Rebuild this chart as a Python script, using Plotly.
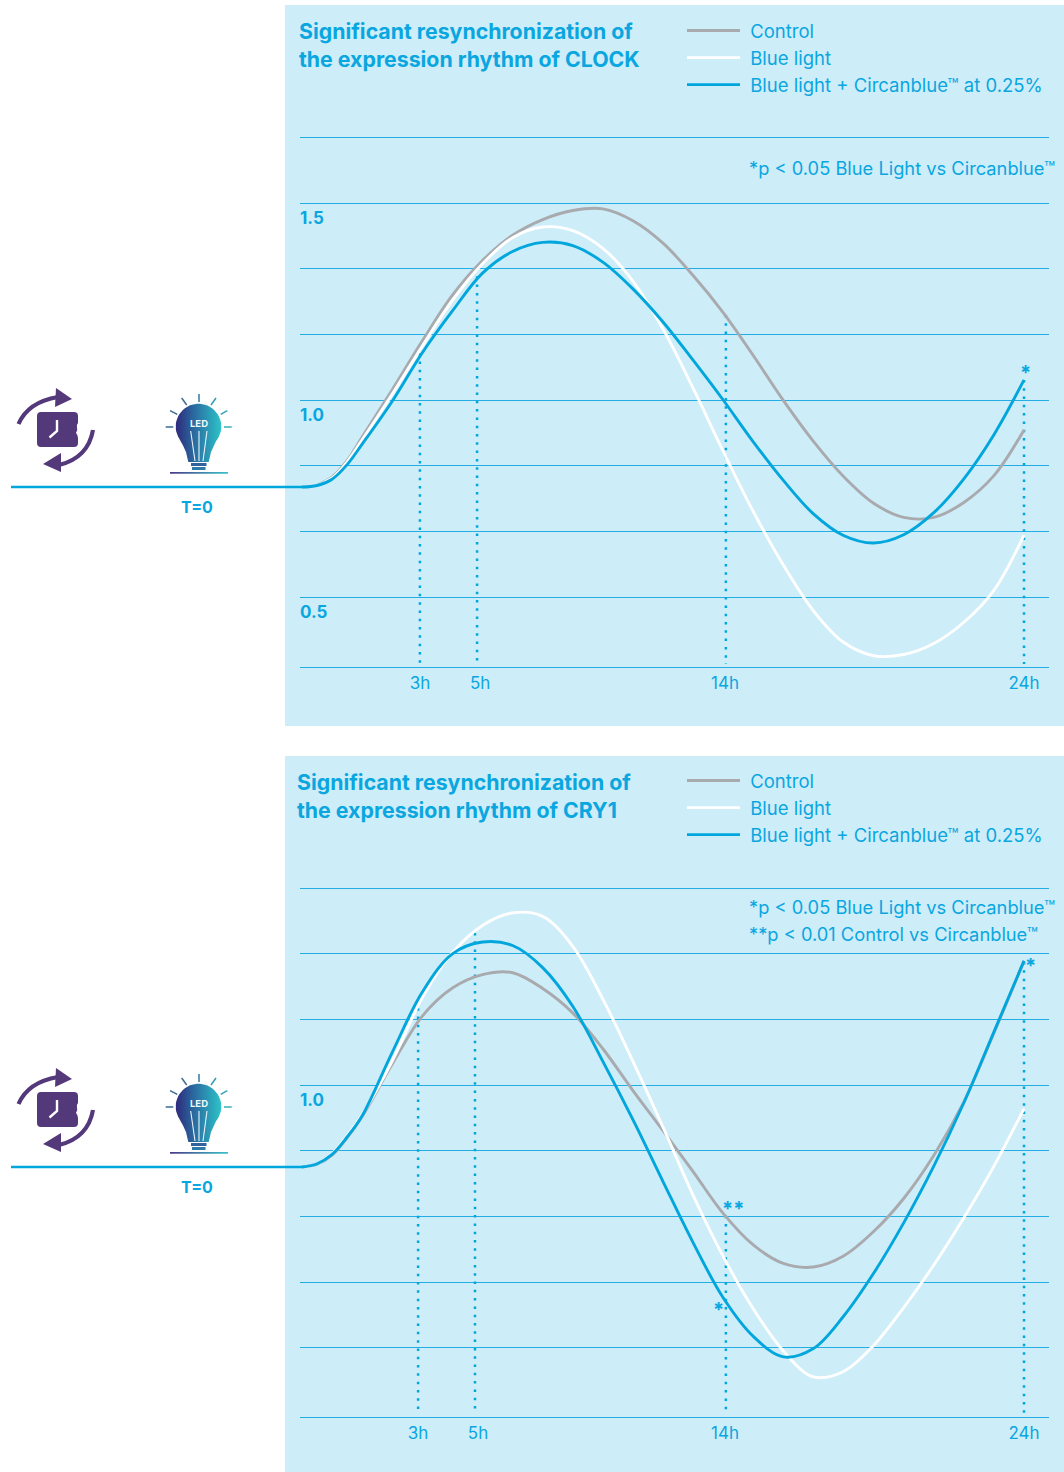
import numpy as np
import plotly.graph_objects as go

# ---------- data (x = position along the drawn time axis, y = relative expression) ----------
SERIES_NAMES = ["\u00a0Control", "\u00a0Blue light", "\u00a0Blue light + Circanblue™ at 0.25%"]

AXIS_POS = [0, .5, 1, 1.5] + list(range(2, 25))
CLOCK_CONTROL = [.779, .784, .804, .846, .906, 1.026, 1.150, 1.266, 1.354, 1.418, 1.458, 1.481, 1.485, 1.455, 1.398, 1.316, 1.222, 1.113, .999, .895, .806, .738, .702, .702, .74, .808, .924]
CLOCK_BLUE = [.779, .784, .802, .843, .899, 1.015, 1.137, 1.253, 1.346, 1.412, 1.439, 1.430, 1.385, 1.302, 1.180, 1.030, .870, .717, .581, .465, .385, .351, .354, .382, .436, .517, .657]
CLOCK_CIRCAN = [.779, .783, .799, .836, .888, .997, 1.120, 1.226, 1.322, 1.377, 1.400, 1.392, 1.350, 1.282, 1.198, 1.101, 1.000, .894, .796, .711, .656, .637, .658, .714, .800, .912, 1.051]

CRY1_CONTROL = [.792, .799, .822, .866, .920, 1.053, 1.175, 1.246, 1.280, 1.285, 1.245, 1.183, 1.092, .986, .884, .780, .674, .594, .547, .538, .566, .628, .712, .821, .957, 1.132, 1.315]
CRY1_BLUE = [.792, .80, .826, .871, .925, 1.061, 1.222, 1.336, 1.405, 1.437, 1.428, 1.352, 1.218, 1.060, .893, .720, .565, .432, .325, .259, .273, .339, .435, .543, .663, .794, .94]
CRY1_CIRCAN = [.792, .80, .824, .868, .922, 1.083, 1.236, 1.333, 1.363, 1.354, 1.298, 1.200, 1.060, .912, .755, .600, .460, .362, .310, .331, .413, .522, .650, .794, .955, 1.135, 1.315]

HOUR_LABELS = ["3h", "5h", "14h", "24h"]
CLOCK_MARK_X = [3.92, 5.82, 14.09, 24.0]
CLOCK_LABEL_X = [3.92, 5.92, 14.06, 24.0]
CLOCK_MARK_TOP = [1.140, 1.335, 1.216, 1.051]
CLOCK_MARK_BOTTOM = .33
CRY1_MARK_X = [3.86, 5.75, 14.09, 24.0]
CRY1_LABEL_X = [3.86, 5.85, 14.06, 24.0]
CRY1_MARK_TOP = [1.195, 1.386, .668, 1.312]
CRY1_MARK_BOTTOM = .165

CLOCK_GRID = [1 + k / 6 for k in (4, 3, 2, 1, 0, -1, -2, -3)]
CLOCK_GRID_TEXT = ["", "<b>1.5</b>", "", "", "<b>1.0</b>", "", "", "<b>0.5</b>"]
CRY1_GRID = [1 + k / 6 for k in (3, 2, 1, 0, -1, -2, -3, -4)]
CRY1_GRID_TEXT = ["", "", "", "<b>1.0</b>", "", "", "", ""]

# ---------- styling ----------
W, H = 1064, 1472
FONT = "Inter"
TXT = "#0aa6e0"
BLUE = "#00a6dc"
GRAY = "#a9aaae"
WHITE = "#ffffff"
PANEL = "#cdedf9"
GRIDC = "#22aee4"
PURPLE = "#54397a"
COLORS = [GRAY, WHITE, BLUE]
LEGEND_SIZE = 18.5
NOTE_SIZE = 18.3

def px(x): return x / W
def py(y): return 1 - y / H

fig = go.Figure()

def add_chart(xa, ya, legend, curves, mark_x, mark_top, mark_bottom):
    for x, y in zip(mark_x, mark_top):
        fig.add_trace(go.Scatter(x=[x, x], y=[y, mark_bottom], mode="lines", xaxis=xa, yaxis=ya,
                                 line=dict(color=BLUE, width=2.5, dash="2.5px,5.8px"),
                                 showlegend=False, hoverinfo="skip"))
    for name, color, cy in zip(SERIES_NAMES, COLORS, curves):
        fig.add_trace(go.Scatter(x=AXIS_POS, y=cy, mode="lines", name=name, xaxis=xa, yaxis=ya, legend=legend,
                                 line=dict(color=color, width=2.9, shape="spline", smoothing=1)))

add_chart("x", "y", "legend", [CLOCK_CONTROL, CLOCK_BLUE, CLOCK_CIRCAN],
          CLOCK_MARK_X, CLOCK_MARK_TOP, CLOCK_MARK_BOTTOM)
add_chart("x2", "y2", "legend2", [CRY1_CONTROL, CRY1_BLUE, CRY1_CIRCAN],
          CRY1_MARK_X, CRY1_MARK_TOP, CRY1_MARK_BOTTOM)

shapes = []
annotations = []

def note(x, y, text, size=NOTE_SIZE, bold=False, color=TXT, anchor="left"):
    annotations.append(dict(x=px(x), y=py(y), xref="paper", yref="paper", text=text, showarrow=False,
                            xanchor=anchor, yanchor="middle", align="left",
                            font=dict(family=FONT, size=size, color=color, weight=700 if bold else 400)))

def line(x0, y0, x1, y1, color, width):
    shapes.append(dict(type="line", xref="x3", yref="y3", x0=x0, y0=y0, x1=x1, y1=y1,
                       line=dict(color=color, width=width), layer="above"))

def path(d, fill=None, color=None, width=0):
    s = dict(type="path", xref="x3", yref="y3", path=d, layer="above",
             line=dict(color=color or "rgba(0,0,0,0)", width=width))
    if fill:
        s["fillcolor"] = fill
    shapes.append(s)

# panels
for top, bottom in ((5, 726), (756, 1472)):
    shapes.append(dict(type="rect", xref="paper", yref="paper", x0=px(285), x1=1, y0=py(bottom), y1=py(top),
                       fillcolor=PANEL, line=dict(width=0), layer="below"))

grad = [[0, "#2e2a7c"], [0.5, "#2a7aa8"], [1, "#2dc3c8"]]

def draw_icons(dy):
    # baseline coming in from the left of the chart
    line(11, 487 + dy, 303, 487 + dy, BLUE, 2.4)
    # rotating arrows
    path(f"M18.5 {424+dy} Q28 {402+dy} 58 {397+dy}", color=PURPLE, width=4.2)
    path(f"M56 {388+dy} L72 {399+dy} L55 {407+dy} Z", fill=PURPLE)
    path(f"M93 {430+dy} Q88 {458+dy} 59 {465+dy}", color=PURPLE, width=4.2)
    path(f"M43 {464+dy} L61 {453+dy} L61 {472+dy} Z", fill=PURPLE)
    path(f"M41 {412+dy} H74 Q78 {412+dy} 78 {416+dy} V{423+dy} Q76 {425+dy} 77 {428+dy} Q78 {430+dy} 76 {433+dy} "
         f"Q78 {435+dy} 78 {438+dy} V{443+dy} Q78 {447+dy} 74 {447+dy} H41 Q37 {447+dy} 37 {443+dy} V{416+dy} "
         f"Q37 {412+dy} 41 {412+dy} Z", fill=PURPLE)
    path(f"M57 {420+dy} V{431+dy} L49.5 {437.5+dy}", color="#ffffff", width=2.4)
    # bulb body
    a = np.radians(np.linspace(220, -40, 40))
    bx = [188.3, 186, 183] + list(198.5 + 22.8 * np.cos(a)) + [214, 211, 208.7, 188.3]
    by = [462, 452, 445.5] + list(426.5 - 22.8 * np.sin(a)) + [445.5, 452, 462, 462]
    fig.add_trace(go.Scatter(x=bx, y=[v + dy for v in by], xaxis="x3", yaxis="y3", mode="lines", fill="toself",
                             line=dict(width=0), fillgradient=dict(type="horizontal", colorscale=grad),
                             showlegend=False, hoverinfo="skip"))
    # ground line under the bulb
    fig.add_trace(go.Scatter(x=[170, 228, 228, 170, 170], y=[v + dy for v in (472, 472, 473.8, 473.8, 472)],
                             xaxis="x3", yaxis="y3", mode="lines", fill="toself", line=dict(width=0),
                             fillgradient=dict(type="horizontal", colorscale=[[0, "#4b3a86"], [1, "#36c3c9"]]),
                             showlegend=False, hoverinfo="skip"))
    # filaments
    for x0, x1 in ((190.7, 195), (199, 199), (207, 203)):
        line(x0, 431 + dy, x1, 461 + dy, "#e8f4f8", 1.1)
    # base
    shapes.append(dict(type="rect", xref="x3", yref="y3", x0=191, x1=206.5, y0=463+dy, y1=466+dy,
                       fillcolor="#33619c", line=dict(width=0), layer="above"))
    shapes.append(dict(type="rect", xref="x3", yref="y3", x0=192, x1=205.5, y0=467+dy, y1=470+dy,
                       fillcolor="#2f7aa8", line=dict(width=0), layer="above"))
    # rays
    for (x0, y0, x1, y1, c) in ((199, 394, 199, 402, "#2f7aa0"), (181.7, 398, 186.7, 405, "#3a6b95"),
                                (216, 398, 211, 405, "#2f9cb0"), (170, 410.7, 177.3, 414.3, "#3a6b95"),
                                (227.3, 410.7, 220.7, 414.3, "#2fa6b8"), (165.7, 427, 173.3, 427, "#3a6b95"),
                                (224, 427, 231.7, 427, "#2fb0bc")):
        line(x0, y0 + dy, x1, y1 + dy, c, 1.5)
    note(198.5, 423 + dy, "LED", size=9.5, bold=True, color="#eef8fb", anchor="center")
    note(197, 506.5 + dy, "T=0", size=16, bold=True, anchor="center")

draw_icons(0)
draw_icons(680)

# texts
note(297, 45, "Significant resynchronization of<br>the expression rhythm of CLOCK", size=21.3, bold=True)
note(295, 796, "Significant resynchronization of<br>the expression rhythm of CRY1", size=21.3, bold=True)
note(747, 168, "*p &lt; 0.05 Blue Light vs Circanblue™")
note(747, 907, "*p &lt; 0.05 Blue Light vs Circanblue™")
note(747, 933.5, "**p &lt; 0.01 Control vs Circanblue™")
note(1025, 373, "*", size=20, bold=True, anchor="center")
note(733, 1209, "**", size=20, bold=True, anchor="center")
note(718, 1310, "*", size=20, bold=True, anchor="center")
note(1030, 966, "*", size=20, bold=True, anchor="center")

def x_axis(anchor, labels):
    return dict(domain=[px(300), px(1049)], range=[-0.066, 24.83], anchor=anchor, showgrid=False, zeroline=False,
                showline=True, linecolor=GRIDC, linewidth=1, tickmode="array", tickvals=labels, ticktext=HOUR_LABELS,
                ticks="", ticklabelstandoff=1, tickfont=dict(family=FONT, size=17, color=TXT), fixedrange=True)

def y_axis(anchor, top, bottom, y_at_400, vals, text):
    return dict(domain=[py(bottom), py(top)], anchor=anchor, zeroline=False, showline=False,
                range=[1 + (y_at_400 - bottom) / 394, 1 + (y_at_400 - top) / 394],
                tickmode="array", tickvals=vals, ticktext=text, ticks="", showgrid=True, gridcolor=GRIDC, gridwidth=1,
                ticklabelposition="inside", ticklabelshift=15, ticklabelstandoff=-3,
                tickfont=dict(family=FONT, size=17, color=TXT), fixedrange=True)

def legend_at(y):
    return dict(x=px(682), y=py(y), xanchor="left", yanchor="top", bgcolor="rgba(0,0,0,0)", borderwidth=0,
                itemwidth=53, font=dict(family=FONT, size=LEGEND_SIZE, color=TXT), itemclick=False, itemdoubleclick=False)

fig.update_layout(
    width=W, height=H, margin=dict(l=0, r=0, t=0, b=0, pad=0), autosize=False,
    paper_bgcolor="#ffffff", plot_bgcolor="rgba(0,0,0,0)", showlegend=True, hovermode=False,
    xaxis=x_axis("y", CLOCK_LABEL_X), yaxis=y_axis("x", 130, 667, 400, CLOCK_GRID, CLOCK_GRID_TEXT),
    xaxis2=x_axis("y2", CRY1_LABEL_X), yaxis2=y_axis("x2", 880, 1417, 1085, CRY1_GRID, CRY1_GRID_TEXT),
    xaxis3=dict(domain=[0, 1], range=[0, W], anchor="y3", visible=False, fixedrange=True),
    yaxis3=dict(domain=[0, 1], range=[H, 0], anchor="x3", visible=False, fixedrange=True),
    legend=legend_at(12), legend2=legend_at(762),
    shapes=shapes, annotations=annotations,
)

fig.write_html("out.html", post_script="document.body.style.margin='0';", config=dict(displayModeBar=False))
